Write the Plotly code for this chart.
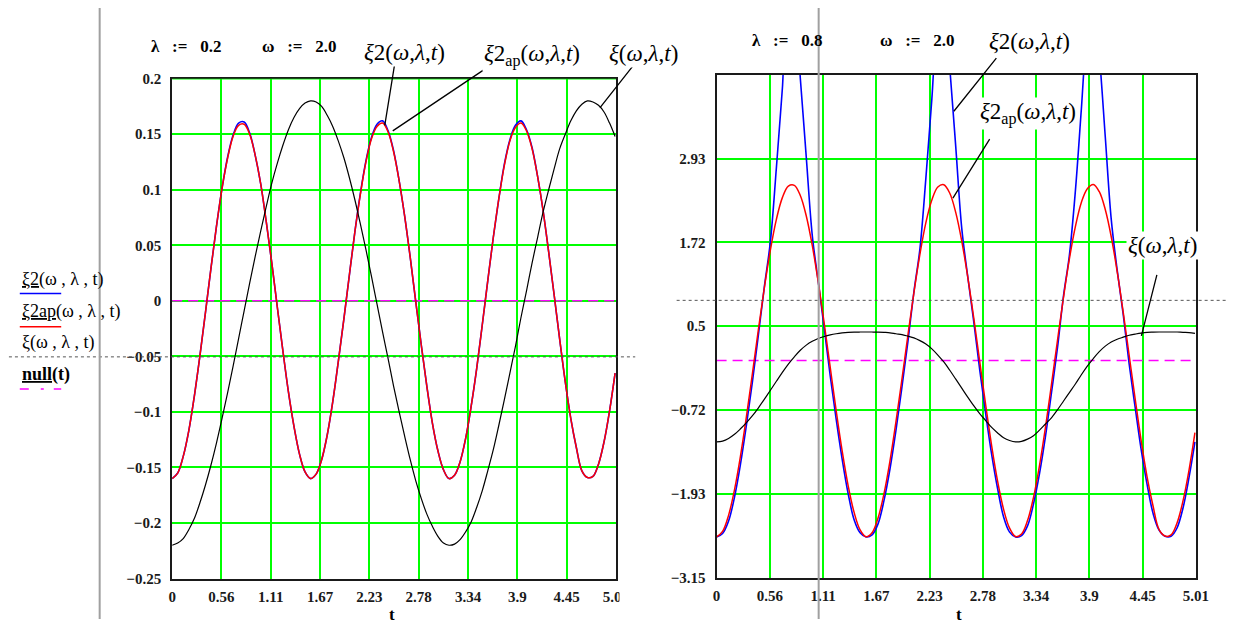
import plotly.graph_objects as go

W, H = 1239, 627

# ---------------- data ----------------
t = [0.0, 0.0625, 0.125, 0.1875, 0.25, 0.3125, 0.375, 0.4375, 0.5, 0.5625, 0.625, 0.6875,
     0.75, 0.8125, 0.875, 0.9375, 1.0, 1.0625, 1.125, 1.1875, 1.25, 1.3125, 1.375, 1.4375,
     1.5, 1.5625, 1.625, 1.6875, 1.75, 1.8125, 1.875, 1.9375, 2.0, 2.0625, 2.125, 2.1875,
     2.25, 2.3125, 2.375, 2.4375, 2.5, 2.5625, 2.625, 2.6875, 2.75, 2.8125, 2.875, 2.9375,
     3.0, 3.0625, 3.125, 3.1875, 3.25, 3.3125, 3.375, 3.4375, 3.5, 3.5625, 3.625, 3.6875,
     3.75, 3.8125, 3.875, 3.9375, 4.0, 4.0625, 4.125, 4.1875, 4.25, 4.3125, 4.375, 4.4375,
     4.5, 4.5625, 4.625, 4.6875, 4.75, 4.8125, 4.875, 4.9375, 5.0]

# left panel: lambda = 0.2, omega = 2.0
xi_left = [-0.220, -0.218, -0.214, -0.206, -0.196, -0.182, -0.166, -0.148, -0.128, -0.106,
           -0.083, -0.059, -0.034, -0.009, 0.016, 0.040, 0.063, 0.085, 0.106, 0.124, 0.140,
           0.154, 0.165, 0.173, 0.178, 0.180, 0.179, 0.175, 0.167, 0.157, 0.144, 0.129, 0.111,
           0.091, 0.069, 0.046, 0.022, -0.003, -0.028, -0.052, -0.077, -0.100, -0.122, -0.143,
           -0.162, -0.178, -0.192, -0.203, -0.212, -0.218, -0.220, -0.219, -0.215, -0.208,
           -0.199, -0.186, -0.171, -0.153, -0.134, -0.112, -0.089, -0.065, -0.041, -0.015,
           0.009, 0.034, 0.057, 0.080, 0.100, 0.119, 0.137, 0.150, 0.162, 0.171, 0.177, 0.180,
           0.179, 0.176, 0.170, 0.160, 0.148]
xi2ap_left = [-0.160, -0.155, -0.140, -0.117, -0.086, -0.050, -0.011, 0.029, 0.067, 0.101,
              0.128, 0.148, 0.158, 0.159, 0.150, 0.131, 0.105, 0.071, 0.034, -0.006, -0.045,
              -0.082, -0.113, -0.138, -0.154, -0.160, -0.156, -0.143, -0.121, -0.091, -0.055,
              -0.017, 0.023, 0.062, 0.096, 0.125, 0.146, 0.157, 0.160, 0.152, 0.134, 0.108,
              0.076, 0.039, -0.001, -0.040, -0.077, -0.110, -0.135, -0.152, -0.160, -0.157,
              -0.145, -0.124, -0.095, -0.061, -0.022, 0.018, 0.057, 0.092, 0.122, 0.144, 0.156,
              0.160, 0.153, 0.137, 0.112, 0.081, 0.044, 0.005, -0.035, -0.073, -0.106, -0.132,
              -0.153, -0.159, -0.158, -0.147, -0.127, -0.099, -0.065]
xi2_left = [-0.160, -0.155, -0.140, -0.117, -0.086, -0.050, -0.011, 0.029, 0.067, 0.101,
            0.129, 0.149, 0.160, 0.161, 0.151, 0.131, 0.105, 0.071, 0.034, -0.006, -0.045,
            -0.082, -0.113, -0.138, -0.154, -0.160, -0.156, -0.143, -0.121, -0.091, -0.055,
            -0.017, 0.023, 0.062, 0.097, 0.126, 0.147, 0.159, 0.162, 0.153, 0.135, 0.108,
            0.076, 0.039, -0.001, -0.040, -0.077, -0.110, -0.135, -0.152, -0.160, -0.157,
            -0.145, -0.124, -0.095, -0.061, -0.022, 0.018, 0.057, 0.092, 0.123, 0.145, 0.158,
            0.162, 0.154, 0.138, 0.112, 0.081, 0.044, 0.005, -0.035, -0.073, -0.106, -0.132,
            -0.153, -0.159, -0.158, -0.147, -0.127, -0.099, -0.065]

# right panel: lambda = 0.8, omega = 2.0
xi_right = [-1.180, -1.168, -1.130, -1.070, -0.990, -0.900, -0.800, -0.685, -0.560, -0.430,
            -0.300, -0.170, -0.050, 0.055, 0.150, 0.225, 0.280, 0.320, 0.350, 0.373, 0.390,
            0.402, 0.410, 0.414, 0.415, 0.415, 0.415, 0.414, 0.410, 0.404, 0.390, 0.378, 0.355,
            0.330, 0.290, 0.240, 0.170, 0.080, -0.020, -0.140, -0.270, -0.400, -0.530, -0.655,
            -0.770, -0.870, -0.970, -1.050, -1.120, -1.160, -1.180, -1.172, -1.140, -1.090,
            -1.010, -0.920, -0.830, -0.715, -0.590, -0.465, -0.340, -0.205, -0.080, 0.030,
            0.130, 0.210, 0.270, 0.310, 0.340, 0.368, 0.385, 0.400, 0.410, 0.413, 0.415, 0.415,
            0.415, 0.415, 0.410, 0.407, 0.395]
xi2ap_right = [-2.560, -2.480, -2.247, -1.873, -1.383, -0.807, -0.181, 0.456, 1.065, 1.608,
               2.051, 2.366, 2.534, 2.545, 2.397, 2.100, 1.673, 1.142, 0.540, -0.096, -0.726,
               -1.311, -1.814, -2.204, -2.458, -2.558, -2.500, -2.286, -1.930, -1.454, -0.887,
               -0.267, 0.372, 0.986, 1.541, 2.004, 2.332, 2.520, 2.553, 2.429, 2.148, 1.735,
               1.217, 0.623, -0.011, -0.644, -1.237, -1.753, -2.160, -2.433, -2.554, -2.517,
               -2.323, -1.985, -1.523, -0.969, -0.350, 0.288, 0.909, 1.476, 1.945, 2.296, 2.495,
               2.558, 2.452, 2.193, 1.798, 1.289, 0.705, 0.074, -0.555, -1.161, -1.690, -2.114,
               -2.454, -2.547, -2.531, -2.357, -2.037, -1.592, -1.045]
xi2_right = [-2.56, -2.51, -2.33, -1.98, -1.50, -0.93, -0.30, 0.38, 1.08, 1.73, 2.80, 3.95,
             5.10, 5.15, 4.10, 2.95, 1.82, 1.15, 0.47, -0.22, -0.85, -1.43, -1.93, -2.31,
             -2.50, -2.56, -2.53, -2.37, -2.03, -1.57, -1.01, -0.38, 0.28, 1.00, 1.62, 2.65,
             3.80, 5.00, 5.30, 4.25, 3.10, 1.92, 1.22, 0.57, -0.13, -0.77, -1.36, -1.86, -2.27,
             -2.49, -2.56, -2.54, -2.40, -2.08, -1.64, -1.10, -0.47, 0.18, 0.93, 1.53, 2.46,
             3.65, 4.85, 5.35, 4.45, 3.25, 2.05, 1.31, 0.67, -0.05, -0.68, -1.29, -1.80, -2.22,
             -2.46, -2.55, -2.55, -2.43, -2.14, -1.70, -1.18]

null_t = [0.0, 5.01]
null_v = [0.0, 0.0]

x_tick_labels_left = ["0", "0.56", "1.11", "1.67", "2.23", "2.78", "3.34", "3.9", "4.45", "5.01"]
x_tick_labels_right = ["0", "0.56", "1.11", "1.67", "2.23", "2.78", "3.34", "3.9", "4.45", "5.01"]
y_tick_labels_left = ["\u22120.25", "\u22120.2", "\u22120.15", "\u22120.1", "\u22120.05", "0",
                      "0.05", "0.1", "0.15", "0.2"]
y_tick_labels_right = ["\u22123.15", "\u22121.93", "\u22120.72", "0.5", "1.72", "2.93"]

x_range = [0.0, 5.01]
yl_range = [-0.25, 0.2]
yr_range = [-3.15, 4.15]

# ---------------- helpers ----------------
def px(x):
    return x / W

def py(y):
    return 1 - y / H

n_xt = len(x_tick_labels_left)
x_tickvals = [x_range[0] + (x_range[1] - x_range[0]) * k / (n_xt - 1) for k in range(n_xt)]
yl_tickvals = [yl_range[0] + (yl_range[1] - yl_range[0]) * k / (len(y_tick_labels_left) - 1)
               for k in range(len(y_tick_labels_left))]
step_r = (yr_range[1] - yr_range[0]) / 6
yr_tickvals = [yr_range[0] + step_r * k for k in range(len(y_tick_labels_right))]

SERIF = "Liberation Serif, Times New Roman, DejaVu Serif, serif"
BLUE, RED, BLACK, MAG, GREEN = "#0000ff", "#ff0000", "#000000", "#ff00ff", "#00ff00"
NULL_DASH = "10px,6px"
LEG_NULL_DASH = "9px,12px,3px,10px"

fig = go.Figure()

def add_panel(xa, ya, xi, xi2, xi2ap):
    fig.add_trace(go.Scatter(x=null_t, y=null_v, mode="lines", xaxis=xa, yaxis=ya,
                             line=dict(color=MAG, width=1.5, dash=NULL_DASH), hoverinfo="skip"))
    fig.add_trace(go.Scatter(x=t, y=xi2, mode="lines", xaxis=xa, yaxis=ya,
                             line=dict(color=BLUE, width=1.6, shape="spline")))
    fig.add_trace(go.Scatter(x=t, y=xi2ap, mode="lines", xaxis=xa, yaxis=ya,
                             line=dict(color=RED, width=1.5, shape="spline")))
    fig.add_trace(go.Scatter(x=t, y=xi, mode="lines", xaxis=xa, yaxis=ya,
                             line=dict(color=BLACK, width=1.2, shape="spline")))

add_panel("x", "y", xi_left, xi2_left, xi2ap_left)
add_panel("x2", "y2", xi_right, xi2_right, xi2ap_right)

tickfont = dict(family=SERIF, size=15, color="#1a1a1a", weight="bold")
axis_common = dict(showgrid=True, gridcolor=GREEN, gridwidth=1.5, zeroline=False,
                   showline=True, linecolor="#1a1a1a", linewidth=2, mirror=True,
                   ticks="", tickfont=tickfont, fixedrange=True)

fig.update_layout(
    width=W, height=H, autosize=False,
    margin=dict(l=0, r=0, t=0, b=0),
    paper_bgcolor="white", plot_bgcolor="white",
    showlegend=False,
    xaxis=dict(domain=[px(170.5), px(620.5)], range=x_range, anchor="y",
               tickmode="array", tickvals=x_tickvals, ticktext=x_tick_labels_left,
               ticklabelstandoff=3, **axis_common),
    yaxis=dict(domain=[py(585.5), py(72.5)], range=yl_range, anchor="x",
               tickmode="array", tickvals=yl_tickvals, ticktext=y_tick_labels_left,
               ticklabelstandoff=6, **axis_common),
    xaxis2=dict(domain=[px(722.5), px(1208.5)], range=x_range, anchor="y2",
                tickmode="array", tickvals=x_tickvals, ticktext=x_tick_labels_right,
                ticklabelstandoff=3, **axis_common),
    yaxis2=dict(domain=[py(584.5), py(68.5)], range=yr_range, anchor="x2",
                tickmode="array", tickvals=yr_tickvals, ticktext=y_tick_labels_right,
                ticklabelstandoff=6, **axis_common),
)

shapes = []
# green top grid line of the left panel drawn over the frame
shapes.append(dict(type="line", xref="x domain", yref="y", x0=0, x1=1, y0=yl_range[1], y1=yl_range[1],
                   line=dict(color=GREEN, width=1.5), layer="above"))
# crop of the last tick label of the left panel
shapes.append(dict(type="rect", xref="paper", yref="paper", x0=px(624), x1=px(655), y0=py(612), y1=py(587),
                   fillcolor="white", line=dict(width=0), layer="above"))
# Mathcad region markers: gray dashed horizontals and gray verticals
shapes.append(dict(type="line", xref="paper", yref="paper", x0=px(5), x1=px(640), y0=py(358), y1=py(358),
                   line=dict(color="#555555", width=1, dash="3px,3px"), layer="above"))
shapes.append(dict(type="line", xref="paper", yref="paper", x0=px(682), x1=px(1239), y0=py(300), y1=py(300),
                   line=dict(color="#555555", width=1, dash="3px,3px"), layer="above"))
shapes.append(dict(type="line", xref="paper", yref="paper", x0=px(97), x1=px(97), y0=0, y1=1,
                   line=dict(color="#a0a0a0", width=2), layer="above"))
shapes.append(dict(type="line", xref="paper", yref="paper", x0=px(826), x1=px(826), y0=0, y1=1,
                   line=dict(color="#a0a0a0", width=2), layer="above"))
# legend sample lines
shapes.append(dict(type="line", xref="paper", yref="paper", x0=px(16), x1=px(58), y0=py(293), y1=py(293),
                   line=dict(color=BLUE, width=1.5)))
shapes.append(dict(type="line", xref="paper", yref="paper", x0=px(16), x1=px(58), y0=py(327), y1=py(327),
                   line=dict(color=RED, width=1.5)))
shapes.append(dict(type="line", xref="paper", yref="paper", x0=px(16), x1=px(58), y0=py(391), y1=py(391),
                   line=dict(color=MAG, width=1.3, dash=LEG_NULL_DASH)))
fig.update_layout(shapes=shapes)

ann = []
def label(x, y, text, size=23, xanchor="center", bg="white", bold=False, yanchor="middle"):
    f = dict(family=SERIF, size=size, color="#000000")
    if bold:
        f["weight"] = "bold"
    ann.append(dict(xref="paper", yref="paper", x=px(x), y=py(y), text=text, showarrow=False,
                    xanchor=xanchor, yanchor=yanchor, font=f, bgcolor=bg, borderpad=1))

# leader lines: from a curve point (data coords) to a tail offset in pixels
def leader(xref, yref, x, y, ax, ay):
    ann.append(dict(xref=xref, yref=yref, x=x, y=y, text=" ", showarrow=True, arrowhead=0,
                    arrowwidth=1.3, arrowcolor="#000000", ax=ax, ay=ay, standoff=0,
                    font=dict(size=1)))

L_XI2 = "<i>ξ</i>2(<i>ω</i>,<i>λ</i>,<i>t</i>)"
L_XI2AP = "<i>ξ</i>2<sub>ap</sub>(<i>ω</i>,<i>λ</i>,<i>t</i>)"
L_XI = "<i>ξ</i>(<i>ω</i>,<i>λ</i>,<i>t</i>)"

leader("x", "y", 2.40, 0.158, 10, -62)
leader("x", "y", 2.49, 0.153, 94, -63)
leader("x", "y", 4.83, 0.174, 38, -48)
leader("x2", "y2", 2.48, 3.62, 44, -55)
leader("x2", "y2", 2.47, 2.36, 38, -61)
leader("x2", "y2", 4.44, 0.36, 16, -63)

# left panel curve labels
label(406, 46, L_XI2)
label(535, 49, L_XI2AP)
label(648, 47, L_XI)
# right panel curve labels
label(1040, 34, L_XI2)
label(1038, 108, L_XI2AP)
label(1175, 244, L_XI)

# parameter definitions
NB = "\u00a0"
label(185, 40, "λ" + NB * 3 + ":=" + NB * 3 + "0.2", size=17, bold=True, bg="rgba(0,0,0,0)")
label(300, 40, "ω" + NB * 3 + ":=" + NB * 3 + "2.0", size=17, bold=True, bg="rgba(0,0,0,0)")
label(794, 33, "λ" + NB * 3 + ":=" + NB * 3 + "0.8", size=17, bold=True, bg="rgba(0,0,0,0)")
label(926, 33, "ω" + NB * 3 + ":=" + NB * 3 + "2.0", size=17, bold=True, bg="rgba(0,0,0,0)")

# axis titles
label(393, 634, "t", size=17, bold=True, bg="rgba(0,0,0,0)", yanchor="bottom")
label(968, 634, "t", size=17, bold=True, bg="rgba(0,0,0,0)", yanchor="bottom")

# Mathcad trace names
label(16, 279, "<u>ξ2</u>(ω , λ , t)", size=18, xanchor="left", bg="rgba(0,0,0,0)")
label(16, 311, "<u>ξ2ap</u>(ω , λ , t)", size=18, xanchor="left", bg="rgba(0,0,0,0)")
label(16, 343, "ξ(ω , λ , t)", size=18, xanchor="left", bg="rgba(0,0,0,0)")
label(16, 376, "<u>null</u>(t)", size=18, xanchor="left", bg="rgba(0,0,0,0)", bold=True)

fig.update_layout(annotations=ann)

fig.write_html("out.html")
